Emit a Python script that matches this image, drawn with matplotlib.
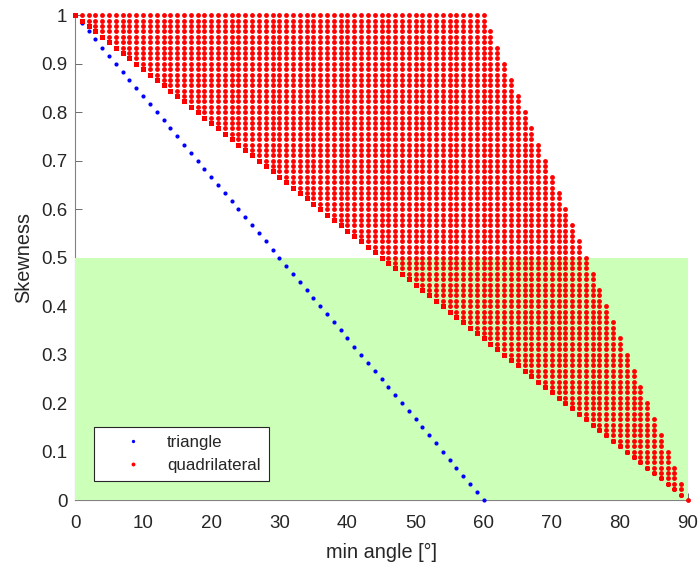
import matplotlib
matplotlib.use('Agg')
import matplotlib.pyplot as plt
from matplotlib.patches import Rectangle
import numpy as np

plt.rcParams['font.family'] = ['Liberation Sans', 'DejaVu Sans']

# triangle: equiangle skewness vs min angle (1 degree steps)
tri_min_angle = np.arange(0, 61)
tri_skew = (60.0 - tri_min_angle) / 60.0

# quadrilateral: all integer (min angle, max angle) combinations
quad_min_range = np.arange(0, 91)
quad_max_range = np.arange(90, 181)
quad_x = []
quad_y = []
for amin in quad_min_range:
    for amax in quad_max_range:
        if amax > 360 - 3 * amin:
            continue
        quad_x.append(amin)
        quad_y.append(max((amax - 90) / 90.0, (90 - amin) / 90.0))

x_ticks = np.arange(0, 91, 10)
y_ticks = np.round(np.arange(0, 1.01, 0.1), 1)
y_ticklabels = ['0', '0.1', '0.2', '0.3', '0.4', '0.5', '0.6', '0.7', '0.8', '0.9', '1']
good_zone = (0, 0, 90, 0.5)  # x, y, w, h

txt = '#262626'
fig = plt.figure(figsize=(6.99, 5.65), dpi=100)
ax = fig.add_axes([0.1073, 0.115, 0.877, 0.858])

ax.add_patch(Rectangle((good_zone[0], good_zone[1]), good_zone[2], good_zone[3],
                       facecolor='#ccffb8', edgecolor='none', zorder=3, clip_on=False))

ax.plot(tri_min_angle, tri_skew, 'o', color='#0000ff', markersize=3.0,
        markeredgewidth=0, linestyle='none', label='triangle', zorder=4, clip_on=False)
ax.plot(quad_x, quad_y, 'o', color='#ff0000', markersize=3.5,
        markeredgewidth=0, linestyle='none', label='quadrilateral', zorder=5, clip_on=False)

ax.set_xlim(0, 90)
ax.set_ylim(0, 1)
ax.set_xticks(x_ticks)
ax.set_yticks(y_ticks)
ax.set_yticklabels(y_ticklabels)
ax.tick_params(direction='in', length=5, width=0.6, colors='#555555',
               labelcolor=txt, labelsize=13.5)
ax.tick_params(axis='x', pad=11)
ax.tick_params(axis='y', pad=5.5)
for s in ['top', 'right']:
    ax.spines[s].set_visible(False)
for s in ['left', 'bottom']:
    ax.spines[s].set_color('#808080')
    ax.spines[s].set_linewidth(0.8)
    ax.spines[s].set_zorder(2)

ax.set_xlabel('min angle [°]', fontsize=14.3, color=txt, labelpad=7.5)
ax.set_ylabel('Skewness', fontsize=14.3, color=txt, labelpad=6)

leg = ax.legend(loc='lower left', bbox_to_anchor=(0.031, 0.039), borderaxespad=0,
                fontsize=12.2, frameon=True, fancybox=False, framealpha=1,
                markerscale=0.8, handlelength=3.6, handletextpad=0.22,
                borderpad=0.5, labelspacing=0.45)
leg.get_frame().set_edgecolor('#262626')
leg.get_frame().set_facecolor('white')
leg.get_frame().set_linewidth(0.8)
leg.set_zorder(6)
for t in leg.get_texts():
    t.set_color(txt)

fig.savefig('out.png', dpi=100)
